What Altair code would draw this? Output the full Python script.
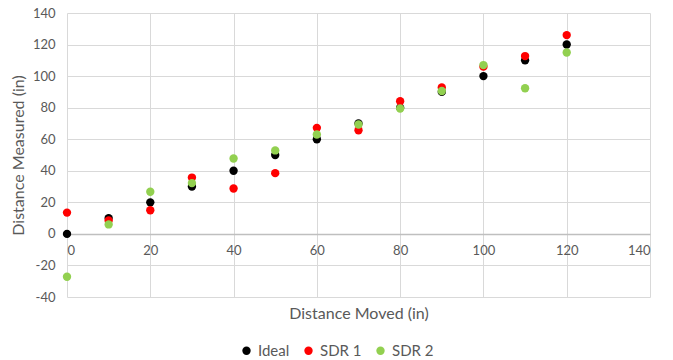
import altair as alt
import pandas as pd

distance_moved = [0, 10, 20, 30, 40, 50, 60, 70, 80, 90, 100, 110, 120]
ideal = [0, 10, 20, 30, 40, 50, 60, 70, 80, 90, 100, 110, 120]
sdr1 = [13.5, 8.5, 15, 35.7, 28.8, 38.5, 67.2, 65.7, 84.1, 92.8, 106, 112.7, 126]
sdr2 = [-27.2, 6, 26.7, 32.2, 47.8, 52.9, 63, 69.3, 79.5, 90.6, 107, 92.3, 115]

series_names = ["Ideal", "SDR 1", "SDR 2"]
series_colors = ["#000000", "#FF0000", "#92D050"]

rows = []
for name, vals in zip(series_names, [ideal, sdr1, sdr2]):
    for x, y in zip(distance_moved, vals):
        rows.append({"Distance Moved": x, "Distance Measured": y, "Series": name})
df = pd.DataFrame(rows)

FONT = "Lato"

chart = alt.Chart(df).mark_circle(size=70, opacity=1).encode(
    x=alt.X("Distance Moved:Q",
            scale=alt.Scale(domain=[0, 140], nice=False, zero=False),
            axis=alt.Axis(values=list(range(0, 141, 20)), title="Distance Moved (in)",
                          offset=-63, ticks=False, domain=True, domainColor="#BFBFBF",
                          domainWidth=1.3, grid=True, gridColor="#D9D9D9",
                          labelPadding=10, labelFontSize=13, labelColor="#595959",
                          labelExpr="'' + datum.value",
                          titleFontSize=16, titleColor="#595959", titleFontWeight="normal",
                          titleY=79, titleBaseline="middle")),
    y=alt.Y("Distance Measured:Q",
            scale=alt.Scale(domain=[-40, 140], nice=False, zero=False),
            axis=alt.Axis(values=list(range(-40, 141, 20)), title="Distance Measured (in)",
                          ticks=False, domain=False, grid=True, gridColor="#D9D9D9",
                          labelPadding=12, labelFontSize=13, labelColor="#595959",
                          labelExpr="'' + datum.value",
                          titleFontSize=16, titleColor="#595959", titleFontWeight="normal",
                          titlePadding=6)),
    color=alt.Color("Series:N",
                    scale=alt.Scale(domain=series_names, range=series_colors),
                    legend=alt.Legend(title=None, orient="none", direction="horizontal",
                                      legendX=172, legendY=330, symbolType="circle",
                                      symbolSize=70, symbolOpacity=1,
                                      labelFontSize=15, labelColor="#595959",
                                      columnPadding=11, symbolStrokeWidth=0)),
).properties(
    width=583, height=284,
    autosize=alt.AutoSizeParams(type="none"),
    padding={"left": 67, "top": 13, "right": 23, "bottom": 63},
).configure(font=FONT).configure_view(stroke=None)

chart.save("out.html", embed_options={"renderer": "svg", "actions": False})
